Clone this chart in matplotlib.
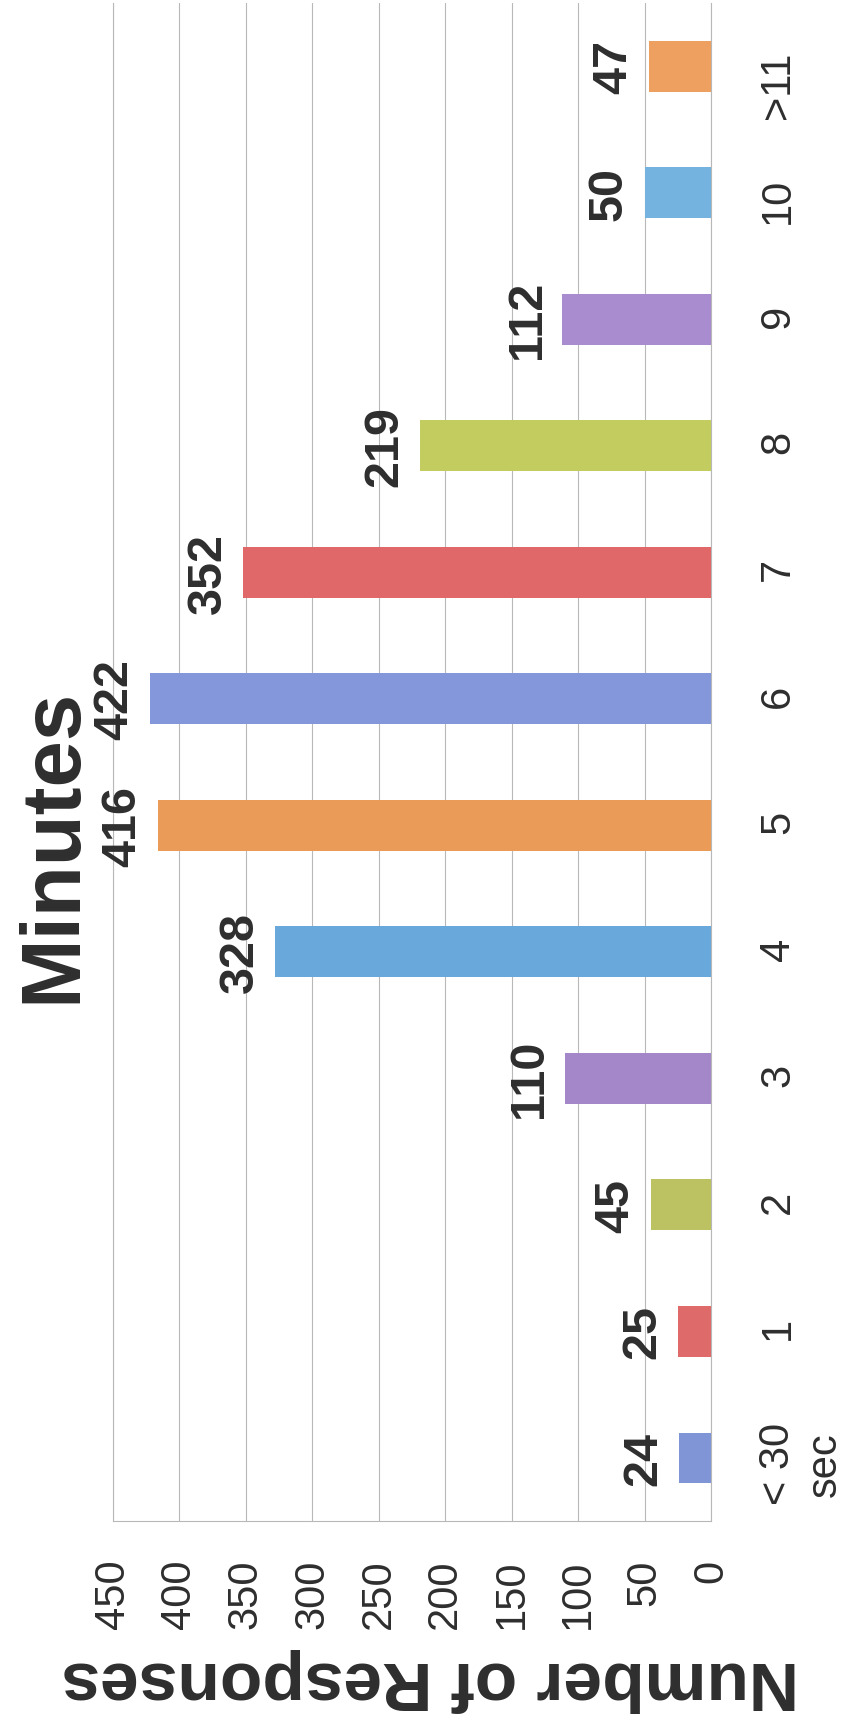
import matplotlib
matplotlib.use("Agg")
import matplotlib.pyplot as plt
import numpy as np

plt.rcParams['font.family'] = ['Liberation Sans', 'DejaVu Sans']

categories = ["< 30\nsec", "1", "2", "3", "4", "5", "6", "7", "8", "9", "10", ">11"]
responses = [24, 25, 45, 110, 328, 416, 422, 352, 219, 112, 50, 47]
value_ticks = [0, 50, 100, 150, 200, 250, 300, 350, 400, 450]
bar_colors = ["#7f95d6", "#df6a6a", "#bcc262", "#a487c8", "#69a8da", "#e99b57",
              "#8397da", "#e06868", "#c2cc5f", "#a98bd0", "#74b2e0", "#eda060"]

title = "Minutes"
value_label = "Number of Responses"

text_col = "#2e2e2e"
grid_col = "#b8b8b8"


def main():
    fig = plt.figure(figsize=(8.41, 17.31), dpi=100)
    ax = fig.add_axes([0.1344, 0.1207, 0.711, 0.877])

    pos = np.arange(len(categories))
    ax.barh(pos, responses, height=0.4, color=bar_colors, zorder=3)

    ax.set_xlim(450, 0)
    ax.set_ylim(-0.5, 11.5)
    ax.set_axisbelow(True)
    ax.xaxis.grid(True, color=grid_col, linewidth=0.8)

    for side in ["left", "right", "bottom"]:
        ax.spines[side].set_color(grid_col)
        ax.spines[side].set_linewidth(0.8)
    ax.spines["top"].set_visible(False)

    ax.set_xticks(value_ticks)
    ax.set_xticklabels([str(t) for t in value_ticks], rotation=90,
                       fontsize=30, color=text_col)
    ax.tick_params(axis="x", length=0, pad=27)

    ax.yaxis.tick_right()
    ax.set_yticks(pos)
    ax.set_yticklabels(categories, rotation=90, fontsize=30, color=text_col,
                       multialignment="center")
    ax.tick_params(axis="y", length=0, pad=34)

    # value labels at the bar ends
    for i, v in enumerate(responses):
        ax.annotate(str(v), xy=(v, i), xytext=(-9, 0), textcoords="offset points",
                    rotation=90, ha="right", va="center", fontsize=35,
                    fontweight="bold", color=text_col)

    ax.set_xlabel(value_label, rotation=180, fontsize=50, fontweight="bold",
                  color=text_col)
    ax.xaxis.set_label_coords(0.53, -0.104)
    ax.xaxis.label.set_va("center")

    fig.text(53 / 841, 1 - 845 / 1731, title, rotation=90, ha="center", va="center",
             fontsize=60, fontweight="bold", color=text_col)

    fig.savefig("out.png", dpi=100)


if __name__ == "__main__":
    main()
